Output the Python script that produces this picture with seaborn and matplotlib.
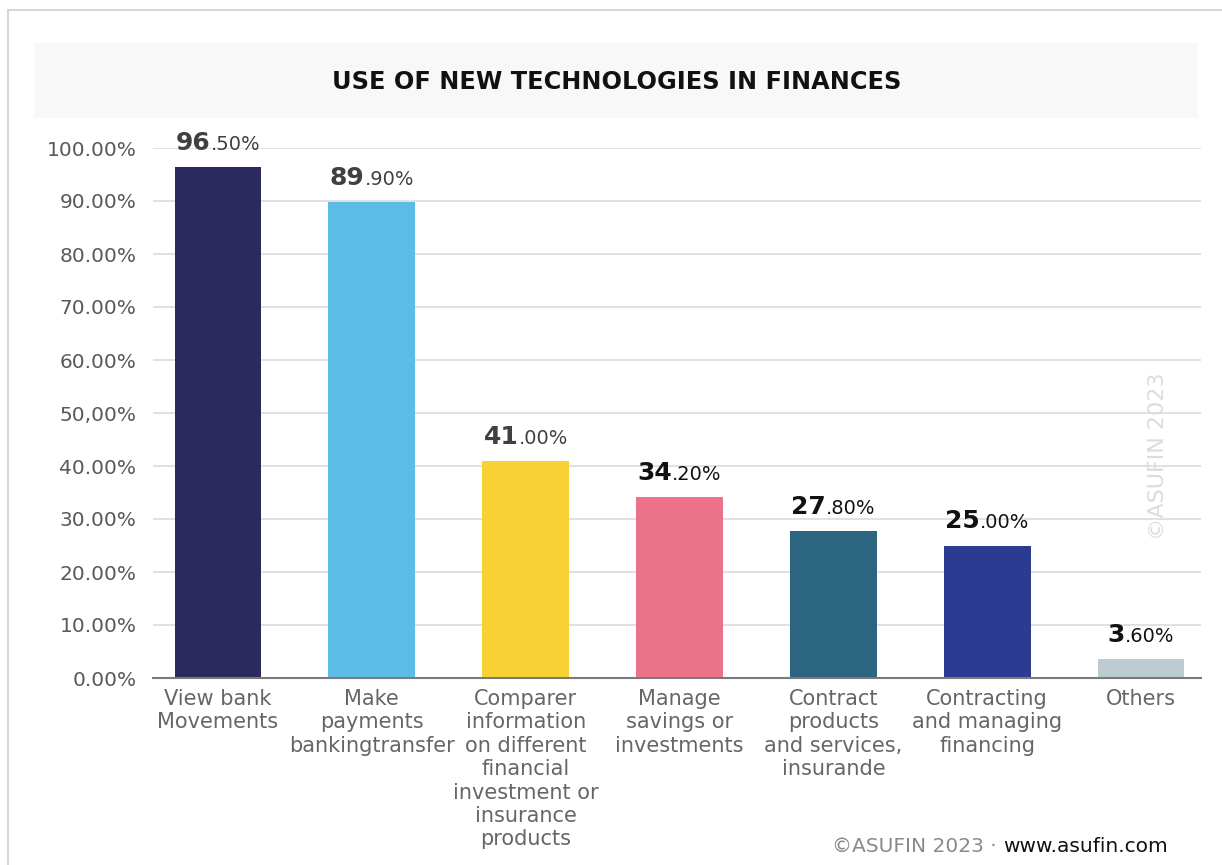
import matplotlib
matplotlib.use("Agg")
import matplotlib.pyplot as plt
import matplotlib.transforms as mtrans
from matplotlib.patches import Rectangle
from matplotlib.lines import Line2D
import seaborn as sns
import pandas as pd

categories = [
    "View bank\nMovements",
    "Make\npayments\nbankingtransfer",
    "Comparer\ninformation\non different\nfinancial\ninvestment or\ninsurance\nproducts",
    "Manage\nsavings or\ninvestments",
    "Contract\nproducts\nand services,\ninsurande",
    "Contracting\nand managing\nfinancing",
    "Others",
]
values = [96.5, 89.9, 41.0, 34.2, 27.8, 25.0, 3.6]
label_int = ["96", "89", "41", "34", "27", "25", "3"]
label_dec = [".50%", ".90%", ".00%", ".20%", ".80%", ".00%", ".60%"]
label_colors = ["#404040", "#404040", "#404040", "#111111", "#111111", "#111111", "#111111"]
bar_colors = ["#2b2a5f", "#5bbce6", "#f8d235", "#ec7289", "#2b6580", "#2b3b92", "#bcccd2"]
y_ticks = [0, 10, 20, 30, 40, 50, 60, 70, 80, 90, 100]
y_ticklabels = ["0.00%", "10.00%", "20.00%", "30.00%", "40.00%", "50,00%",
                "60.00%", "70.00%", "80.00%", "90.00%", "100.00%"]
title = "USE OF NEW TECHNOLOGIES IN FINANCES"

sns.set_theme(style="white")
plt.rcParams["font.family"] = ["DejaVu Sans"]

W, H = 1222, 865
fig = plt.figure(figsize=(W / 100, H / 100), dpi=100)
fig.patch.set_facecolor("white")

# frame lines (left and top)
fig.add_artist(Line2D([8 / W, 8 / W], [0, 1 - 10 / H], color="#d0d0d0", lw=1.2,
                      transform=fig.transFigure))
fig.add_artist(Line2D([8 / W, 1], [1 - 10 / H, 1 - 10 / H], color="#d0d0d0", lw=1.2,
                      transform=fig.transFigure))
# title band
fig.add_artist(Rectangle((34 / W, 1 - 118 / H), (1198 - 34) / W, (118 - 43) / H,
                         transform=fig.transFigure, facecolor="#f8f8f8", edgecolor="none"))
fig.text(617 / W, 1 - 82 / H, title, ha="center", va="center", fontsize=17.3,
         fontweight="bold", color="#111111")

ax_left, ax_right = 153 / W, 1201 / W
ax_bottom, ax_top = 1 - 678 / H, 1 - 148 / H
ax = fig.add_axes([ax_left, ax_bottom, ax_right - ax_left, ax_top - ax_bottom])

df = pd.DataFrame({"cat": categories, "val": values})
sns.barplot(data=df, x="cat", y="val", hue="cat", palette=bar_colors, width=0.565,
            saturation=1, legend=False, ax=ax, zorder=3, linewidth=0)

ax.set_ylim(0, 100)
ax.set_xlim(-0.4226, 6.39)
ax.set_yticks(y_ticks)
ax.set_yticklabels(y_ticklabels, fontsize=14.5, color="#595959")
ax.tick_params(axis="y", length=0, pad=12)
ax.tick_params(axis="x", length=0, pad=8)
for lab in ax.get_xticklabels():
    lab.set_fontsize(15)
    lab.set_color("#666666")
    lab.set_linespacing(1.21)
ax.set_xlabel("")
ax.set_ylabel("")
ax.yaxis.grid(True, color="#d9d9d9", lw=1.1, zorder=0)
ax.set_axisbelow(True)
for s in ["top", "right", "left"]:
    ax.spines[s].set_visible(False)
ax.spines["bottom"].set_color("#7a7a7a")
ax.spines["bottom"].set_linewidth(1.5)
ax.spines["bottom"].set_zorder(4)

# value labels: big bold integer part + smaller decimal part, centered on bar
fig.canvas.draw()
renderer = fig.canvas.get_renderer()
for i, (v, a, b, c) in enumerate(zip(values, label_int, label_dec, label_colors)):
    t1 = ax.text(i, v, a, fontsize=18, fontweight="bold", color=c, ha="left",
                 va="baseline", clip_on=False)
    t2 = ax.text(i, v, b, fontsize=14, color=c, ha="left", va="baseline", clip_on=False)
    w1 = t1.get_window_extent(renderer).width
    w2 = t2.get_window_extent(renderer).width
    tot = w1 + w2
    t1.set_transform(mtrans.offset_copy(ax.transData, fig=fig, x=-tot / 2, y=17, units="dots"))
    t2.set_transform(mtrans.offset_copy(ax.transData, fig=fig, x=-tot / 2 + w1, y=17, units="dots"))

# vertical watermark
fig.text(1158 / W, 1 - 456 / H, "©ASUFIN 2023", rotation=90, ha="center", va="center",
         fontsize=16, color="#dcdcdc")

# footer
f2 = fig.text(1168 / W, 1 - 846 / H, "www.asufin.com", ha="right", va="center",
              fontsize=14.5, color="#111111")
fig.canvas.draw()
bb = f2.get_window_extent(fig.canvas.get_renderer())
fig.text(bb.x0 / W, 1 - 846 / H, "©ASUFIN 2023 · ", ha="right", va="center",
         fontsize=14.5, color="#8a8a8a")

fig.savefig("out.png", dpi=100, facecolor="white")
